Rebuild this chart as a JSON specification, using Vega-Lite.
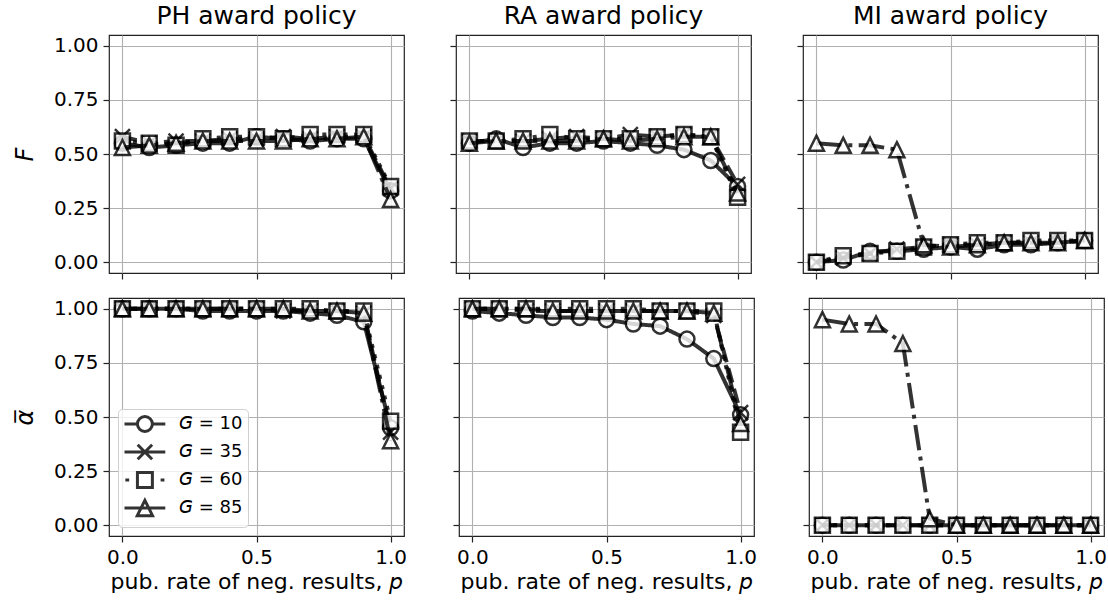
{
  "$schema": "https://vega.github.io/schema/vega-lite/v6.json",
  "padding": {"left": 12, "top": 3, "right": 7, "bottom": 5},
  "spacing": 14,
  "datasets": {
    "PH_F": [
      {"G": 10, "p": 0.0, "v": 0.55}, {"G": 10, "p": 0.1, "v": 0.53}, {"G": 10, "p": 0.2, "v": 0.54}, {"G": 10, "p": 0.3, "v": 0.55},
      {"G": 10, "p": 0.4, "v": 0.55}, {"G": 10, "p": 0.5, "v": 0.58}, {"G": 10, "p": 0.6, "v": 0.57}, {"G": 10, "p": 0.7, "v": 0.56},
      {"G": 10, "p": 0.8, "v": 0.57}, {"G": 10, "p": 0.9, "v": 0.57}, {"G": 10, "p": 1.0, "v": 0.33},
      {"G": 35, "p": 0.0, "v": 0.58}, {"G": 35, "p": 0.1, "v": 0.55}, {"G": 35, "p": 0.2, "v": 0.56}, {"G": 35, "p": 0.3, "v": 0.56},
      {"G": 35, "p": 0.4, "v": 0.57}, {"G": 35, "p": 0.5, "v": 0.57}, {"G": 35, "p": 0.6, "v": 0.58}, {"G": 35, "p": 0.7, "v": 0.57},
      {"G": 35, "p": 0.8, "v": 0.58}, {"G": 35, "p": 0.9, "v": 0.58}, {"G": 35, "p": 1.0, "v": 0.34},
      {"G": 60, "p": 0.0, "v": 0.56}, {"G": 60, "p": 0.1, "v": 0.55}, {"G": 60, "p": 0.2, "v": 0.54}, {"G": 60, "p": 0.3, "v": 0.57},
      {"G": 60, "p": 0.4, "v": 0.58}, {"G": 60, "p": 0.5, "v": 0.58}, {"G": 60, "p": 0.6, "v": 0.57}, {"G": 60, "p": 0.7, "v": 0.59},
      {"G": 60, "p": 0.8, "v": 0.59}, {"G": 60, "p": 0.9, "v": 0.59}, {"G": 60, "p": 1.0, "v": 0.35},
      {"G": 85, "p": 0.0, "v": 0.53}, {"G": 85, "p": 0.1, "v": 0.54}, {"G": 85, "p": 0.2, "v": 0.55}, {"G": 85, "p": 0.3, "v": 0.56},
      {"G": 85, "p": 0.4, "v": 0.56}, {"G": 85, "p": 0.5, "v": 0.56}, {"G": 85, "p": 0.6, "v": 0.56}, {"G": 85, "p": 0.7, "v": 0.57},
      {"G": 85, "p": 0.8, "v": 0.57}, {"G": 85, "p": 0.9, "v": 0.58}, {"G": 85, "p": 1.0, "v": 0.29}
    ],
    "RA_F": [
      {"G": 10, "p": 0.0, "v": 0.55}, {"G": 10, "p": 0.1, "v": 0.57}, {"G": 10, "p": 0.2, "v": 0.53}, {"G": 10, "p": 0.3, "v": 0.55},
      {"G": 10, "p": 0.4, "v": 0.55}, {"G": 10, "p": 0.5, "v": 0.56}, {"G": 10, "p": 0.6, "v": 0.55}, {"G": 10, "p": 0.7, "v": 0.54},
      {"G": 10, "p": 0.8, "v": 0.52}, {"G": 10, "p": 0.9, "v": 0.47}, {"G": 10, "p": 1.0, "v": 0.35},
      {"G": 35, "p": 0.0, "v": 0.56}, {"G": 35, "p": 0.1, "v": 0.56}, {"G": 35, "p": 0.2, "v": 0.56}, {"G": 35, "p": 0.3, "v": 0.57},
      {"G": 35, "p": 0.4, "v": 0.58}, {"G": 35, "p": 0.5, "v": 0.57}, {"G": 35, "p": 0.6, "v": 0.59}, {"G": 35, "p": 0.7, "v": 0.58},
      {"G": 35, "p": 0.8, "v": 0.59}, {"G": 35, "p": 0.9, "v": 0.58}, {"G": 35, "p": 1.0, "v": 0.36},
      {"G": 60, "p": 0.0, "v": 0.56}, {"G": 60, "p": 0.1, "v": 0.56}, {"G": 60, "p": 0.2, "v": 0.57}, {"G": 60, "p": 0.3, "v": 0.59},
      {"G": 60, "p": 0.4, "v": 0.57}, {"G": 60, "p": 0.5, "v": 0.57}, {"G": 60, "p": 0.6, "v": 0.57}, {"G": 60, "p": 0.7, "v": 0.58},
      {"G": 60, "p": 0.8, "v": 0.59}, {"G": 60, "p": 0.9, "v": 0.58}, {"G": 60, "p": 1.0, "v": 0.30},
      {"G": 85, "p": 0.0, "v": 0.55}, {"G": 85, "p": 0.1, "v": 0.56}, {"G": 85, "p": 0.2, "v": 0.56}, {"G": 85, "p": 0.3, "v": 0.56},
      {"G": 85, "p": 0.4, "v": 0.56}, {"G": 85, "p": 0.5, "v": 0.57}, {"G": 85, "p": 0.6, "v": 0.56}, {"G": 85, "p": 0.7, "v": 0.57},
      {"G": 85, "p": 0.8, "v": 0.58}, {"G": 85, "p": 0.9, "v": 0.58}, {"G": 85, "p": 1.0, "v": 0.32}
    ],
    "MI_F": [
      {"G": 10, "p": 0.0, "v": 0.00}, {"G": 10, "p": 0.1, "v": 0.01}, {"G": 10, "p": 0.2, "v": 0.05}, {"G": 10, "p": 0.3, "v": 0.05},
      {"G": 10, "p": 0.4, "v": 0.06}, {"G": 10, "p": 0.5, "v": 0.07}, {"G": 10, "p": 0.6, "v": 0.06}, {"G": 10, "p": 0.7, "v": 0.08},
      {"G": 10, "p": 0.8, "v": 0.08}, {"G": 10, "p": 0.9, "v": 0.09}, {"G": 10, "p": 1.0, "v": 0.10},
      {"G": 35, "p": 0.0, "v": 0.00}, {"G": 35, "p": 0.1, "v": 0.02}, {"G": 35, "p": 0.2, "v": 0.04}, {"G": 35, "p": 0.3, "v": 0.06},
      {"G": 35, "p": 0.4, "v": 0.07}, {"G": 35, "p": 0.5, "v": 0.08}, {"G": 35, "p": 0.6, "v": 0.08}, {"G": 35, "p": 0.7, "v": 0.09},
      {"G": 35, "p": 0.8, "v": 0.09}, {"G": 35, "p": 0.9, "v": 0.09}, {"G": 35, "p": 1.0, "v": 0.10},
      {"G": 60, "p": 0.0, "v": 0.00}, {"G": 60, "p": 0.1, "v": 0.03}, {"G": 60, "p": 0.2, "v": 0.04}, {"G": 60, "p": 0.3, "v": 0.05},
      {"G": 60, "p": 0.4, "v": 0.07}, {"G": 60, "p": 0.5, "v": 0.08}, {"G": 60, "p": 0.6, "v": 0.09}, {"G": 60, "p": 0.7, "v": 0.09},
      {"G": 60, "p": 0.8, "v": 0.10}, {"G": 60, "p": 0.9, "v": 0.10}, {"G": 60, "p": 1.0, "v": 0.10},
      {"G": 85, "p": 0.0, "v": 0.55}, {"G": 85, "p": 0.1, "v": 0.54}, {"G": 85, "p": 0.2, "v": 0.54}, {"G": 85, "p": 0.3, "v": 0.52},
      {"G": 85, "p": 0.4, "v": 0.08}, {"G": 85, "p": 0.5, "v": 0.07}, {"G": 85, "p": 0.6, "v": 0.08}, {"G": 85, "p": 0.7, "v": 0.09},
      {"G": 85, "p": 0.8, "v": 0.09}, {"G": 85, "p": 0.9, "v": 0.09}, {"G": 85, "p": 1.0, "v": 0.10}
    ],
    "PH_A": [
      {"G": 10, "p": 0.0, "v": 1.00}, {"G": 10, "p": 0.1, "v": 1.00}, {"G": 10, "p": 0.2, "v": 1.00}, {"G": 10, "p": 0.3, "v": 0.99},
      {"G": 10, "p": 0.4, "v": 0.99}, {"G": 10, "p": 0.5, "v": 0.99}, {"G": 10, "p": 0.6, "v": 0.99}, {"G": 10, "p": 0.7, "v": 0.98},
      {"G": 10, "p": 0.8, "v": 0.97}, {"G": 10, "p": 0.9, "v": 0.94}, {"G": 10, "p": 1.0, "v": 0.45},
      {"G": 35, "p": 0.0, "v": 1.00}, {"G": 35, "p": 0.1, "v": 1.00}, {"G": 35, "p": 0.2, "v": 1.00}, {"G": 35, "p": 0.3, "v": 1.00},
      {"G": 35, "p": 0.4, "v": 1.00}, {"G": 35, "p": 0.5, "v": 1.00}, {"G": 35, "p": 0.6, "v": 0.99}, {"G": 35, "p": 0.7, "v": 0.99},
      {"G": 35, "p": 0.8, "v": 0.99}, {"G": 35, "p": 0.9, "v": 0.98}, {"G": 35, "p": 1.0, "v": 0.43},
      {"G": 60, "p": 0.0, "v": 1.00}, {"G": 60, "p": 0.1, "v": 1.00}, {"G": 60, "p": 0.2, "v": 1.00}, {"G": 60, "p": 0.3, "v": 1.00},
      {"G": 60, "p": 0.4, "v": 1.00}, {"G": 60, "p": 0.5, "v": 1.00}, {"G": 60, "p": 0.6, "v": 1.00}, {"G": 60, "p": 0.7, "v": 1.00},
      {"G": 60, "p": 0.8, "v": 0.99}, {"G": 60, "p": 0.9, "v": 0.99}, {"G": 60, "p": 1.0, "v": 0.48},
      {"G": 85, "p": 0.0, "v": 1.00}, {"G": 85, "p": 0.1, "v": 1.00}, {"G": 85, "p": 0.2, "v": 1.00}, {"G": 85, "p": 0.3, "v": 1.00},
      {"G": 85, "p": 0.4, "v": 1.00}, {"G": 85, "p": 0.5, "v": 1.00}, {"G": 85, "p": 0.6, "v": 1.00}, {"G": 85, "p": 0.7, "v": 0.99},
      {"G": 85, "p": 0.8, "v": 0.99}, {"G": 85, "p": 0.9, "v": 0.98}, {"G": 85, "p": 1.0, "v": 0.39}
    ],
    "RA_A": [
      {"G": 10, "p": 0.0, "v": 0.99}, {"G": 10, "p": 0.1, "v": 0.98}, {"G": 10, "p": 0.2, "v": 0.97}, {"G": 10, "p": 0.3, "v": 0.96},
      {"G": 10, "p": 0.4, "v": 0.96}, {"G": 10, "p": 0.5, "v": 0.95}, {"G": 10, "p": 0.6, "v": 0.93}, {"G": 10, "p": 0.7, "v": 0.92},
      {"G": 10, "p": 0.8, "v": 0.86}, {"G": 10, "p": 0.9, "v": 0.77}, {"G": 10, "p": 1.0, "v": 0.51},
      {"G": 35, "p": 0.0, "v": 1.00}, {"G": 35, "p": 0.1, "v": 1.00}, {"G": 35, "p": 0.2, "v": 0.99}, {"G": 35, "p": 0.3, "v": 0.99},
      {"G": 35, "p": 0.4, "v": 0.99}, {"G": 35, "p": 0.5, "v": 0.99}, {"G": 35, "p": 0.6, "v": 0.99}, {"G": 35, "p": 0.7, "v": 0.99},
      {"G": 35, "p": 0.8, "v": 0.99}, {"G": 35, "p": 0.9, "v": 0.97}, {"G": 35, "p": 1.0, "v": 0.52},
      {"G": 60, "p": 0.0, "v": 1.00}, {"G": 60, "p": 0.1, "v": 1.00}, {"G": 60, "p": 0.2, "v": 1.00}, {"G": 60, "p": 0.3, "v": 1.00},
      {"G": 60, "p": 0.4, "v": 1.00}, {"G": 60, "p": 0.5, "v": 1.00}, {"G": 60, "p": 0.6, "v": 1.00}, {"G": 60, "p": 0.7, "v": 0.99},
      {"G": 60, "p": 0.8, "v": 0.99}, {"G": 60, "p": 0.9, "v": 0.99}, {"G": 60, "p": 1.0, "v": 0.43},
      {"G": 85, "p": 0.0, "v": 1.00}, {"G": 85, "p": 0.1, "v": 1.00}, {"G": 85, "p": 0.2, "v": 1.00}, {"G": 85, "p": 0.3, "v": 0.99},
      {"G": 85, "p": 0.4, "v": 0.99}, {"G": 85, "p": 0.5, "v": 0.99}, {"G": 85, "p": 0.6, "v": 0.99}, {"G": 85, "p": 0.7, "v": 0.99},
      {"G": 85, "p": 0.8, "v": 0.99}, {"G": 85, "p": 0.9, "v": 0.98}, {"G": 85, "p": 1.0, "v": 0.47}
    ],
    "MI_A": [
      {"G": 10, "p": 0.0, "v": 0.00}, {"G": 10, "p": 0.1, "v": 0.00}, {"G": 10, "p": 0.2, "v": 0.00}, {"G": 10, "p": 0.3, "v": 0.00},
      {"G": 10, "p": 0.4, "v": 0.00}, {"G": 10, "p": 0.5, "v": 0.00}, {"G": 10, "p": 0.6, "v": 0.00}, {"G": 10, "p": 0.7, "v": 0.00},
      {"G": 10, "p": 0.8, "v": 0.00}, {"G": 10, "p": 0.9, "v": 0.00}, {"G": 10, "p": 1.0, "v": 0.00},
      {"G": 35, "p": 0.0, "v": 0.00}, {"G": 35, "p": 0.1, "v": 0.00}, {"G": 35, "p": 0.2, "v": 0.00}, {"G": 35, "p": 0.3, "v": 0.00},
      {"G": 35, "p": 0.4, "v": 0.00}, {"G": 35, "p": 0.5, "v": 0.00}, {"G": 35, "p": 0.6, "v": 0.00}, {"G": 35, "p": 0.7, "v": 0.00},
      {"G": 35, "p": 0.8, "v": 0.00}, {"G": 35, "p": 0.9, "v": 0.00}, {"G": 35, "p": 1.0, "v": 0.00},
      {"G": 60, "p": 0.0, "v": 0.00}, {"G": 60, "p": 0.1, "v": 0.00}, {"G": 60, "p": 0.2, "v": 0.00}, {"G": 60, "p": 0.3, "v": 0.00},
      {"G": 60, "p": 0.4, "v": 0.00}, {"G": 60, "p": 0.5, "v": 0.00}, {"G": 60, "p": 0.6, "v": 0.00}, {"G": 60, "p": 0.7, "v": 0.00},
      {"G": 60, "p": 0.8, "v": 0.00}, {"G": 60, "p": 0.9, "v": 0.00}, {"G": 60, "p": 1.0, "v": 0.00},
      {"G": 85, "p": 0.0, "v": 0.95}, {"G": 85, "p": 0.1, "v": 0.93}, {"G": 85, "p": 0.2, "v": 0.93}, {"G": 85, "p": 0.3, "v": 0.84},
      {"G": 85, "p": 0.4, "v": 0.03}, {"G": 85, "p": 0.5, "v": 0.00}, {"G": 85, "p": 0.6, "v": 0.00}, {"G": 85, "p": 0.7, "v": 0.00},
      {"G": 85, "p": 0.8, "v": 0.00}, {"G": 85, "p": 0.9, "v": 0.00}, {"G": 85, "p": 1.0, "v": 0.00}
    ]
  },
  "vconcat": [
    {
      "spacing": 43,
      "hconcat": [
        {
          "width": 295, "height": 238,
          "data": {"name": "PH_F"},
          "title": "PH award policy",
          "encoding": {
            "x": {"field": "p", "type": "quantitative", "scale": {"domain": [-0.05, 1.05], "nice": false, "zero": false},
                  "axis": {"values": [0, 0.5, 1], "labels": false, "title": null}},
            "y": {"field": "v", "type": "quantitative", "scale": {"domain": [-0.05, 1.05], "nice": false, "zero": false},
                  "axis": {"values": [0, 0.25, 0.5, 0.75, 1], "format": ".2f", "title": "F", "titleFontStyle": "italic"}}
          },
          "layer": [
            {"transform": [{"filter": "datum.G == 10"}], "mark": {"type": "line", "color": "#000", "opacity": 0.8, "strokeWidth": 4},
             "encoding": {"strokeDash": {"field": "G", "type": "nominal", "scale": {"domain": [10, 35, 60, 85], "range": [[1, 0], [14.8, 6.4], [4, 6.6], [25.6, 6.4, 4, 6.4]]}, "legend": null}}},
            {"transform": [{"filter": "datum.G == 10"}], "mark": {"type": "point", "filled": true, "fill": "#fff", "stroke": "#000", "strokeWidth": 2.5, "opacity": 0.8, "size": 225},
             "encoding": {"shape": {"field": "G", "type": "nominal", "scale": {"domain": [10, 35, 60, 85], "range": ["circle", "M-1,-1L1,1M-1,1L1,-1", "square", "M0,-1L1,1L-1,1Z"]}, "legend": null}}},
            {"transform": [{"filter": "datum.G == 35"}], "mark": {"type": "line", "color": "#000", "opacity": 0.8, "strokeWidth": 4},
             "encoding": {"strokeDash": {"field": "G", "type": "nominal", "scale": {"domain": [10, 35, 60, 85], "range": [[1, 0], [14.8, 6.4], [4, 6.6], [25.6, 6.4, 4, 6.4]]}, "legend": null}}},
            {"transform": [{"filter": "datum.G == 35"}], "mark": {"type": "point", "filled": true, "fill": "#fff", "stroke": "#000", "strokeWidth": 2.5, "opacity": 0.8, "size": 225},
             "encoding": {"shape": {"field": "G", "type": "nominal", "scale": {"domain": [10, 35, 60, 85], "range": ["circle", "M-1,-1L1,1M-1,1L1,-1", "square", "M0,-1L1,1L-1,1Z"]}, "legend": null}}},
            {"transform": [{"filter": "datum.G == 60"}], "mark": {"type": "line", "color": "#000", "opacity": 0.8, "strokeWidth": 4},
             "encoding": {"strokeDash": {"field": "G", "type": "nominal", "scale": {"domain": [10, 35, 60, 85], "range": [[1, 0], [14.8, 6.4], [4, 6.6], [25.6, 6.4, 4, 6.4]]}, "legend": null}}},
            {"transform": [{"filter": "datum.G == 60"}], "mark": {"type": "point", "filled": true, "fill": "#fff", "stroke": "#000", "strokeWidth": 2.5, "opacity": 0.8, "size": 225},
             "encoding": {"shape": {"field": "G", "type": "nominal", "scale": {"domain": [10, 35, 60, 85], "range": ["circle", "M-1,-1L1,1M-1,1L1,-1", "square", "M0,-1L1,1L-1,1Z"]}, "legend": null}}},
            {"transform": [{"filter": "datum.G == 85"}], "mark": {"type": "line", "color": "#000", "opacity": 0.8, "strokeWidth": 4},
             "encoding": {"strokeDash": {"field": "G", "type": "nominal", "scale": {"domain": [10, 35, 60, 85], "range": [[1, 0], [14.8, 6.4], [4, 6.6], [25.6, 6.4, 4, 6.4]]}, "legend": null}}},
            {"transform": [{"filter": "datum.G == 85"}], "mark": {"type": "point", "filled": true, "fill": "#fff", "stroke": "#000", "strokeWidth": 2.5, "opacity": 0.8, "size": 225},
             "encoding": {"shape": {"field": "G", "type": "nominal", "scale": {"domain": [10, 35, 60, 85], "range": ["circle", "M-1,-1L1,1M-1,1L1,-1", "square", "M0,-1L1,1L-1,1Z"]}, "legend": null}}}
          ]
        },
        {
          "width": 295, "height": 238,
          "data": {"name": "RA_F"},
          "title": "RA award policy",
          "encoding": {
            "x": {"field": "p", "type": "quantitative", "scale": {"domain": [-0.05, 1.05], "nice": false, "zero": false},
                  "axis": {"values": [0, 0.5, 1], "labels": false, "title": null}},
            "y": {"field": "v", "type": "quantitative", "scale": {"domain": [-0.05, 1.05], "nice": false, "zero": false},
                  "axis": {"values": [0, 0.25, 0.5, 0.75, 1], "labels": false, "title": null}}
          },
          "layer": [
            {"transform": [{"filter": "datum.G == 10"}], "mark": {"type": "line", "color": "#000", "opacity": 0.8, "strokeWidth": 4},
             "encoding": {"strokeDash": {"field": "G", "type": "nominal", "scale": {"domain": [10, 35, 60, 85], "range": [[1, 0], [14.8, 6.4], [4, 6.6], [25.6, 6.4, 4, 6.4]]}, "legend": null}}},
            {"transform": [{"filter": "datum.G == 10"}], "mark": {"type": "point", "filled": true, "fill": "#fff", "stroke": "#000", "strokeWidth": 2.5, "opacity": 0.8, "size": 225},
             "encoding": {"shape": {"field": "G", "type": "nominal", "scale": {"domain": [10, 35, 60, 85], "range": ["circle", "M-1,-1L1,1M-1,1L1,-1", "square", "M0,-1L1,1L-1,1Z"]}, "legend": null}}},
            {"transform": [{"filter": "datum.G == 35"}], "mark": {"type": "line", "color": "#000", "opacity": 0.8, "strokeWidth": 4},
             "encoding": {"strokeDash": {"field": "G", "type": "nominal", "scale": {"domain": [10, 35, 60, 85], "range": [[1, 0], [14.8, 6.4], [4, 6.6], [25.6, 6.4, 4, 6.4]]}, "legend": null}}},
            {"transform": [{"filter": "datum.G == 35"}], "mark": {"type": "point", "filled": true, "fill": "#fff", "stroke": "#000", "strokeWidth": 2.5, "opacity": 0.8, "size": 225},
             "encoding": {"shape": {"field": "G", "type": "nominal", "scale": {"domain": [10, 35, 60, 85], "range": ["circle", "M-1,-1L1,1M-1,1L1,-1", "square", "M0,-1L1,1L-1,1Z"]}, "legend": null}}},
            {"transform": [{"filter": "datum.G == 60"}], "mark": {"type": "line", "color": "#000", "opacity": 0.8, "strokeWidth": 4},
             "encoding": {"strokeDash": {"field": "G", "type": "nominal", "scale": {"domain": [10, 35, 60, 85], "range": [[1, 0], [14.8, 6.4], [4, 6.6], [25.6, 6.4, 4, 6.4]]}, "legend": null}}},
            {"transform": [{"filter": "datum.G == 60"}], "mark": {"type": "point", "filled": true, "fill": "#fff", "stroke": "#000", "strokeWidth": 2.5, "opacity": 0.8, "size": 225},
             "encoding": {"shape": {"field": "G", "type": "nominal", "scale": {"domain": [10, 35, 60, 85], "range": ["circle", "M-1,-1L1,1M-1,1L1,-1", "square", "M0,-1L1,1L-1,1Z"]}, "legend": null}}},
            {"transform": [{"filter": "datum.G == 85"}], "mark": {"type": "line", "color": "#000", "opacity": 0.8, "strokeWidth": 4},
             "encoding": {"strokeDash": {"field": "G", "type": "nominal", "scale": {"domain": [10, 35, 60, 85], "range": [[1, 0], [14.8, 6.4], [4, 6.6], [25.6, 6.4, 4, 6.4]]}, "legend": null}}},
            {"transform": [{"filter": "datum.G == 85"}], "mark": {"type": "point", "filled": true, "fill": "#fff", "stroke": "#000", "strokeWidth": 2.5, "opacity": 0.8, "size": 225},
             "encoding": {"shape": {"field": "G", "type": "nominal", "scale": {"domain": [10, 35, 60, 85], "range": ["circle", "M-1,-1L1,1M-1,1L1,-1", "square", "M0,-1L1,1L-1,1Z"]}, "legend": null}}}
          ]
        },
        {
          "width": 295, "height": 238,
          "data": {"name": "MI_F"},
          "title": "MI award policy",
          "encoding": {
            "x": {"field": "p", "type": "quantitative", "scale": {"domain": [-0.05, 1.05], "nice": false, "zero": false},
                  "axis": {"values": [0, 0.5, 1], "labels": false, "title": null}},
            "y": {"field": "v", "type": "quantitative", "scale": {"domain": [-0.05, 1.05], "nice": false, "zero": false},
                  "axis": {"values": [0, 0.25, 0.5, 0.75, 1], "labels": false, "title": null}}
          },
          "layer": [
            {"transform": [{"filter": "datum.G == 10"}], "mark": {"type": "line", "color": "#000", "opacity": 0.8, "strokeWidth": 4},
             "encoding": {"strokeDash": {"field": "G", "type": "nominal", "scale": {"domain": [10, 35, 60, 85], "range": [[1, 0], [14.8, 6.4], [4, 6.6], [25.6, 6.4, 4, 6.4]]}, "legend": null}}},
            {"transform": [{"filter": "datum.G == 10"}], "mark": {"type": "point", "filled": true, "fill": "#fff", "stroke": "#000", "strokeWidth": 2.5, "opacity": 0.8, "size": 225},
             "encoding": {"shape": {"field": "G", "type": "nominal", "scale": {"domain": [10, 35, 60, 85], "range": ["circle", "M-1,-1L1,1M-1,1L1,-1", "square", "M0,-1L1,1L-1,1Z"]}, "legend": null}}},
            {"transform": [{"filter": "datum.G == 35"}], "mark": {"type": "line", "color": "#000", "opacity": 0.8, "strokeWidth": 4},
             "encoding": {"strokeDash": {"field": "G", "type": "nominal", "scale": {"domain": [10, 35, 60, 85], "range": [[1, 0], [14.8, 6.4], [4, 6.6], [25.6, 6.4, 4, 6.4]]}, "legend": null}}},
            {"transform": [{"filter": "datum.G == 35"}], "mark": {"type": "point", "filled": true, "fill": "#fff", "stroke": "#000", "strokeWidth": 2.5, "opacity": 0.8, "size": 225},
             "encoding": {"shape": {"field": "G", "type": "nominal", "scale": {"domain": [10, 35, 60, 85], "range": ["circle", "M-1,-1L1,1M-1,1L1,-1", "square", "M0,-1L1,1L-1,1Z"]}, "legend": null}}},
            {"transform": [{"filter": "datum.G == 60"}], "mark": {"type": "line", "color": "#000", "opacity": 0.8, "strokeWidth": 4},
             "encoding": {"strokeDash": {"field": "G", "type": "nominal", "scale": {"domain": [10, 35, 60, 85], "range": [[1, 0], [14.8, 6.4], [4, 6.6], [25.6, 6.4, 4, 6.4]]}, "legend": null}}},
            {"transform": [{"filter": "datum.G == 60"}], "mark": {"type": "point", "filled": true, "fill": "#fff", "stroke": "#000", "strokeWidth": 2.5, "opacity": 0.8, "size": 225},
             "encoding": {"shape": {"field": "G", "type": "nominal", "scale": {"domain": [10, 35, 60, 85], "range": ["circle", "M-1,-1L1,1M-1,1L1,-1", "square", "M0,-1L1,1L-1,1Z"]}, "legend": null}}},
            {"transform": [{"filter": "datum.G == 85"}], "mark": {"type": "line", "color": "#000", "opacity": 0.8, "strokeWidth": 4},
             "encoding": {"strokeDash": {"field": "G", "type": "nominal", "scale": {"domain": [10, 35, 60, 85], "range": [[1, 0], [14.8, 6.4], [4, 6.6], [25.6, 6.4, 4, 6.4]]}, "legend": null}}},
            {"transform": [{"filter": "datum.G == 85"}], "mark": {"type": "point", "filled": true, "fill": "#fff", "stroke": "#000", "strokeWidth": 2.5, "opacity": 0.8, "size": 225},
             "encoding": {"shape": {"field": "G", "type": "nominal", "scale": {"domain": [10, 35, 60, 85], "range": ["circle", "M-1,-1L1,1M-1,1L1,-1", "square", "M0,-1L1,1L-1,1Z"]}, "legend": null}}}
          ]
        }
      ]
    },
    {
      "spacing": 43,
      "hconcat": [
        {
          "width": 295, "height": 238,
          "data": {"name": "PH_A"},
          "encoding": {
            "x": {"field": "p", "type": "quantitative", "scale": {"domain": [-0.05, 1.05], "nice": false, "zero": false},
                  "axis": {"values": [0, 0.5, 1], "format": ".1f", "title": "pub. rate of neg. results, 𝘱"}},
            "y": {"field": "v", "type": "quantitative", "scale": {"domain": [-0.05, 1.05], "nice": false, "zero": false},
                  "axis": {"values": [0, 0.25, 0.5, 0.75, 1], "format": ".2f", "title": "α̅", "titleFontStyle": "italic"}}
          },
          "resolve": {"scale": {"shape": "independent"}},
          "layer": [
            {"transform": [{"filter": "datum.G == 10"}], "mark": {"type": "line", "color": "#000", "opacity": 0.8, "strokeWidth": 4},
             "encoding": {"strokeDash": {"field": "G", "type": "nominal", "scale": {"domain": [10, 35, 60, 85], "range": [[1, 0], [14.8, 6.4], [4, 6.6], [25.6, 6.4, 4, 6.4]]}, "legend": null}}},
            {"transform": [{"filter": "datum.G == 10"}], "mark": {"type": "point", "filled": true, "fill": "#fff", "stroke": "#000", "strokeWidth": 2.5, "opacity": 0.8, "size": 225},
             "encoding": {"shape": {"field": "G", "type": "nominal", "scale": {"domain": [10, 35, 60, 85], "range": ["circle", "M-1,-1L1,1M-1,1L1,-1", "square", "M0,-1L1,1L-1,1Z"]}, "legend": null}}},
            {"transform": [{"filter": "datum.G == 35"}], "mark": {"type": "line", "color": "#000", "opacity": 0.8, "strokeWidth": 4},
             "encoding": {"strokeDash": {"field": "G", "type": "nominal", "scale": {"domain": [10, 35, 60, 85], "range": [[1, 0], [14.8, 6.4], [4, 6.6], [25.6, 6.4, 4, 6.4]]}, "legend": null}}},
            {"transform": [{"filter": "datum.G == 35"}], "mark": {"type": "point", "filled": true, "fill": "#fff", "stroke": "#000", "strokeWidth": 2.5, "opacity": 0.8, "size": 225},
             "encoding": {"shape": {"field": "G", "type": "nominal", "scale": {"domain": [10, 35, 60, 85], "range": ["circle", "M-1,-1L1,1M-1,1L1,-1", "square", "M0,-1L1,1L-1,1Z"]}, "legend": null}}},
            {"transform": [{"filter": "datum.G == 60"}], "mark": {"type": "line", "color": "#000", "opacity": 0.8, "strokeWidth": 4},
             "encoding": {"strokeDash": {"field": "G", "type": "nominal", "scale": {"domain": [10, 35, 60, 85], "range": [[1, 0], [14.8, 6.4], [4, 6.6], [25.6, 6.4, 4, 6.4]]}, "legend": null}}},
            {"transform": [{"filter": "datum.G == 60"}], "mark": {"type": "point", "filled": true, "fill": "#fff", "stroke": "#000", "strokeWidth": 2.5, "opacity": 0.8, "size": 225},
             "encoding": {"shape": {"field": "G", "type": "nominal", "scale": {"domain": [10, 35, 60, 85], "range": ["circle", "M-1,-1L1,1M-1,1L1,-1", "square", "M0,-1L1,1L-1,1Z"]}, "legend": null}}},
            {"transform": [{"filter": "datum.G == 85"}], "mark": {"type": "line", "color": "#000", "opacity": 0.8, "strokeWidth": 4},
             "encoding": {"strokeDash": {"field": "G", "type": "nominal", "scale": {"domain": [10, 35, 60, 85], "range": [[1, 0], [14.8, 6.4], [4, 6.6], [25.6, 6.4, 4, 6.4]]}, "legend": null}}},
            {"transform": [{"filter": "datum.G == 85"}], "mark": {"type": "point", "filled": true, "fill": "#fff", "stroke": "#000", "strokeWidth": 2.5, "opacity": 0.8, "size": 225},
             "encoding": {"shape": {"field": "G", "type": "nominal", "scale": {"domain": [10, 35, 60, 85], "range": ["circle", "M-1,-1L1,1M-1,1L1,-1", "square", "M0,-1L1,1L-1,1Z"]}, "legend": null}}},
            {"mark": {"type": "point", "filled": false, "stroke": "#333", "strokeWidth": 3, "opacity": 0},
             "encoding": {"shape": {"field": "G", "type": "nominal",
               "scale": {"domain": [10, 35, 60, 85], "range": [
                 "M-1,0L0.52,0M2.28,0L3.8,0M2.28,0A0.88,0.88 0 1 1 0.52,0A0.88,0.88 0 1 1 2.28,0Z",
                 "M-1,0L3.8,0M0.55,-0.85L2.25,0.85M0.55,0.85L2.25,-0.85",
                 "M-0.9,0L-0.45,0M3.25,0L3.7,0M0.52,-0.88L2.28,-0.88L2.28,0.88L0.52,0.88Z",
                 "M-1,0L3.8,0M1.4,-0.9L2.3,0.9L0.5,0.9Z"]},
               "legend": {"orient": "bottom-left", "offset": 9, "title": null, "padding": 5,
                 "strokeColor": "#d0d0d0", "cornerRadius": 4, "fillColor": "rgba(255,255,255,0.8)",
                 "symbolSize": 289, "symbolStrokeWidth": 3, "symbolStrokeColor": "#333", "symbolFillColor": "#fff", "symbolOpacity": 1,
                 "labelFontSize": 18, "labelOffset": 36, "rowPadding": 0, "labelColor": "#000",
                 "labelExpr": "'𝘎 = ' + datum.label",
                 "encode": {"symbols": {"update": {"stroke": {"value": "#333"}, "fill": {"value": "#fff"}, "strokeWidth": {"value": 3}, "opacity": {"value": 1}}}}}}}}
          ]
        },
        {
          "width": 295, "height": 238,
          "data": {"name": "RA_A"},
          "encoding": {
            "x": {"field": "p", "type": "quantitative", "scale": {"domain": [-0.05, 1.05], "nice": false, "zero": false},
                  "axis": {"values": [0, 0.5, 1], "format": ".1f", "title": "pub. rate of neg. results, 𝘱"}},
            "y": {"field": "v", "type": "quantitative", "scale": {"domain": [-0.05, 1.05], "nice": false, "zero": false},
                  "axis": {"values": [0, 0.25, 0.5, 0.75, 1], "labels": false, "title": null}}
          },
          "layer": [
            {"transform": [{"filter": "datum.G == 10"}], "mark": {"type": "line", "color": "#000", "opacity": 0.8, "strokeWidth": 4},
             "encoding": {"strokeDash": {"field": "G", "type": "nominal", "scale": {"domain": [10, 35, 60, 85], "range": [[1, 0], [14.8, 6.4], [4, 6.6], [25.6, 6.4, 4, 6.4]]}, "legend": null}}},
            {"transform": [{"filter": "datum.G == 10"}], "mark": {"type": "point", "filled": true, "fill": "#fff", "stroke": "#000", "strokeWidth": 2.5, "opacity": 0.8, "size": 225},
             "encoding": {"shape": {"field": "G", "type": "nominal", "scale": {"domain": [10, 35, 60, 85], "range": ["circle", "M-1,-1L1,1M-1,1L1,-1", "square", "M0,-1L1,1L-1,1Z"]}, "legend": null}}},
            {"transform": [{"filter": "datum.G == 35"}], "mark": {"type": "line", "color": "#000", "opacity": 0.8, "strokeWidth": 4},
             "encoding": {"strokeDash": {"field": "G", "type": "nominal", "scale": {"domain": [10, 35, 60, 85], "range": [[1, 0], [14.8, 6.4], [4, 6.6], [25.6, 6.4, 4, 6.4]]}, "legend": null}}},
            {"transform": [{"filter": "datum.G == 35"}], "mark": {"type": "point", "filled": true, "fill": "#fff", "stroke": "#000", "strokeWidth": 2.5, "opacity": 0.8, "size": 225},
             "encoding": {"shape": {"field": "G", "type": "nominal", "scale": {"domain": [10, 35, 60, 85], "range": ["circle", "M-1,-1L1,1M-1,1L1,-1", "square", "M0,-1L1,1L-1,1Z"]}, "legend": null}}},
            {"transform": [{"filter": "datum.G == 60"}], "mark": {"type": "line", "color": "#000", "opacity": 0.8, "strokeWidth": 4},
             "encoding": {"strokeDash": {"field": "G", "type": "nominal", "scale": {"domain": [10, 35, 60, 85], "range": [[1, 0], [14.8, 6.4], [4, 6.6], [25.6, 6.4, 4, 6.4]]}, "legend": null}}},
            {"transform": [{"filter": "datum.G == 60"}], "mark": {"type": "point", "filled": true, "fill": "#fff", "stroke": "#000", "strokeWidth": 2.5, "opacity": 0.8, "size": 225},
             "encoding": {"shape": {"field": "G", "type": "nominal", "scale": {"domain": [10, 35, 60, 85], "range": ["circle", "M-1,-1L1,1M-1,1L1,-1", "square", "M0,-1L1,1L-1,1Z"]}, "legend": null}}},
            {"transform": [{"filter": "datum.G == 85"}], "mark": {"type": "line", "color": "#000", "opacity": 0.8, "strokeWidth": 4},
             "encoding": {"strokeDash": {"field": "G", "type": "nominal", "scale": {"domain": [10, 35, 60, 85], "range": [[1, 0], [14.8, 6.4], [4, 6.6], [25.6, 6.4, 4, 6.4]]}, "legend": null}}},
            {"transform": [{"filter": "datum.G == 85"}], "mark": {"type": "point", "filled": true, "fill": "#fff", "stroke": "#000", "strokeWidth": 2.5, "opacity": 0.8, "size": 225},
             "encoding": {"shape": {"field": "G", "type": "nominal", "scale": {"domain": [10, 35, 60, 85], "range": ["circle", "M-1,-1L1,1M-1,1L1,-1", "square", "M0,-1L1,1L-1,1Z"]}, "legend": null}}}
          ]
        },
        {
          "width": 295, "height": 238,
          "data": {"name": "MI_A"},
          "encoding": {
            "x": {"field": "p", "type": "quantitative", "scale": {"domain": [-0.05, 1.05], "nice": false, "zero": false},
                  "axis": {"values": [0, 0.5, 1], "format": ".1f", "title": "pub. rate of neg. results, 𝘱"}},
            "y": {"field": "v", "type": "quantitative", "scale": {"domain": [-0.05, 1.05], "nice": false, "zero": false},
                  "axis": {"values": [0, 0.25, 0.5, 0.75, 1], "labels": false, "title": null}}
          },
          "layer": [
            {"transform": [{"filter": "datum.G == 10"}], "mark": {"type": "line", "color": "#000", "opacity": 0.8, "strokeWidth": 4},
             "encoding": {"strokeDash": {"field": "G", "type": "nominal", "scale": {"domain": [10, 35, 60, 85], "range": [[1, 0], [14.8, 6.4], [4, 6.6], [25.6, 6.4, 4, 6.4]]}, "legend": null}}},
            {"transform": [{"filter": "datum.G == 10"}], "mark": {"type": "point", "filled": true, "fill": "#fff", "stroke": "#000", "strokeWidth": 2.5, "opacity": 0.8, "size": 225},
             "encoding": {"shape": {"field": "G", "type": "nominal", "scale": {"domain": [10, 35, 60, 85], "range": ["circle", "M-1,-1L1,1M-1,1L1,-1", "square", "M0,-1L1,1L-1,1Z"]}, "legend": null}}},
            {"transform": [{"filter": "datum.G == 35"}], "mark": {"type": "line", "color": "#000", "opacity": 0.8, "strokeWidth": 4},
             "encoding": {"strokeDash": {"field": "G", "type": "nominal", "scale": {"domain": [10, 35, 60, 85], "range": [[1, 0], [14.8, 6.4], [4, 6.6], [25.6, 6.4, 4, 6.4]]}, "legend": null}}},
            {"transform": [{"filter": "datum.G == 35"}], "mark": {"type": "point", "filled": true, "fill": "#fff", "stroke": "#000", "strokeWidth": 2.5, "opacity": 0.8, "size": 225},
             "encoding": {"shape": {"field": "G", "type": "nominal", "scale": {"domain": [10, 35, 60, 85], "range": ["circle", "M-1,-1L1,1M-1,1L1,-1", "square", "M0,-1L1,1L-1,1Z"]}, "legend": null}}},
            {"transform": [{"filter": "datum.G == 60"}], "mark": {"type": "line", "color": "#000", "opacity": 0.8, "strokeWidth": 4},
             "encoding": {"strokeDash": {"field": "G", "type": "nominal", "scale": {"domain": [10, 35, 60, 85], "range": [[1, 0], [14.8, 6.4], [4, 6.6], [25.6, 6.4, 4, 6.4]]}, "legend": null}}},
            {"transform": [{"filter": "datum.G == 60"}], "mark": {"type": "point", "filled": true, "fill": "#fff", "stroke": "#000", "strokeWidth": 2.5, "opacity": 0.8, "size": 225},
             "encoding": {"shape": {"field": "G", "type": "nominal", "scale": {"domain": [10, 35, 60, 85], "range": ["circle", "M-1,-1L1,1M-1,1L1,-1", "square", "M0,-1L1,1L-1,1Z"]}, "legend": null}}},
            {"transform": [{"filter": "datum.G == 85"}], "mark": {"type": "line", "color": "#000", "opacity": 0.8, "strokeWidth": 4},
             "encoding": {"strokeDash": {"field": "G", "type": "nominal", "scale": {"domain": [10, 35, 60, 85], "range": [[1, 0], [14.8, 6.4], [4, 6.6], [25.6, 6.4, 4, 6.4]]}, "legend": null}}},
            {"transform": [{"filter": "datum.G == 85"}], "mark": {"type": "point", "filled": true, "fill": "#fff", "stroke": "#000", "strokeWidth": 2.5, "opacity": 0.8, "size": 225},
             "encoding": {"shape": {"field": "G", "type": "nominal", "scale": {"domain": [10, 35, 60, 85], "range": ["circle", "M-1,-1L1,1M-1,1L1,-1", "square", "M0,-1L1,1L-1,1Z"]}, "legend": null}}}
          ]
        }
      ]
    }
  ],
  "config": {
    "font": "DejaVu Sans",
    "view": {"stroke": "#222", "strokeWidth": 1.2},
    "axis": {"grid": true, "gridColor": "#b0b0b0", "gridWidth": 1.1, "domain": false,
             "tickColor": "#222", "tickSize": 6, "tickWidth": 1.2,
             "labelFontSize": 20, "labelColor": "#000", "labelPadding": 5,
             "titleFontSize": 22, "titleFontWeight": "normal", "titleColor": "#000", "titlePadding": 4},
    "axisY": {"titleFontSize": 24, "titlePadding": 16},
    "title": {"fontSize": 25, "fontWeight": "normal", "frame": "group", "offset": 6, "color": "#000"}
  }
}
